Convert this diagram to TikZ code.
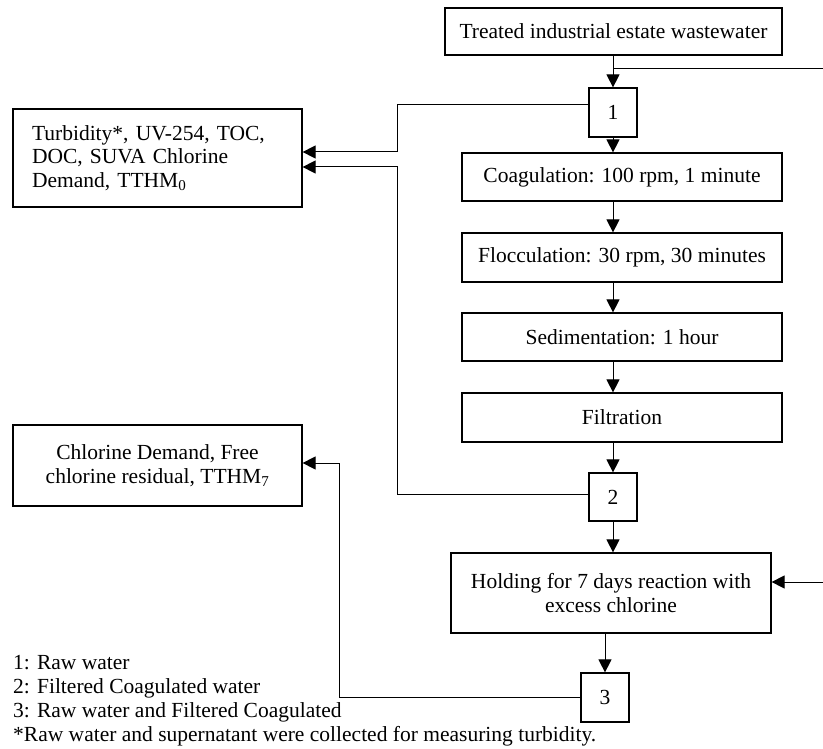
\documentclass[tikz,border=0pt]{standalone}
\usepackage{fontspec}
\setmainfont{Liberation Serif}
\usetikzlibrary{arrows.meta}
\begin{document}
\begin{tikzpicture}[x=1pt,y=-1pt,
  box/.style={draw,line width=1.2pt,inner sep=0pt,font=\fontsize{21.5}{23.5}\selectfont,align=center},
  conn/.style={line width=1pt},
  arr/.style={conn,-{Triangle[length=13pt,width=13pt]}},
  legend/.style={anchor=west,inner sep=0pt,align=left,font=\fontsize{21.5}{24}\selectfont}]
\useasboundingbox[fill=white] (0,0) rectangle (823,749);
% main column
\node[box,minimum width=337pt,minimum height=47pt] (top) at (613.5,31.5) {Treated industrial estate wastewater};
\node[box,minimum width=48pt,minimum height=49pt] (b1) at (613,112.5) {1};
\node[box,minimum width=320pt,minimum height=48pt] (coag) at (622,177) {Coagulation: 100 rpm, 1 minute};
\node[box,minimum width=320pt,minimum height=49pt] (floc) at (622,257.5) {Flocculation: 30 rpm, 30 minutes};
\node[box,minimum width=320pt,minimum height=48pt] (sed) at (622,337) {Sedimentation: 1 hour};
\node[box,minimum width=320pt,minimum height=49pt] (filt) at (622,417.5) {Filtration};
\node[box,minimum width=48pt,minimum height=48pt] (b2) at (613,497) {2};
\node[box,minimum width=320pt,minimum height=80pt] (hold) at (611,593) {Holding for 7 days reaction with\\excess chlorine};
\node[box,minimum width=48pt,minimum height=49pt] (b3) at (605,697.5) {3};
% left boxes
\node[box,minimum height=98pt,text width=251pt,inner xsep=19pt,align=left] (lb1) at (157.5,158)
  {Turbidity*, UV-254, TOC,\\DOC, SUVA Chlorine\\Demand, TTHM\textsubscript{0}};
\node[box,minimum width=289pt,minimum height=81pt] (lb2) at (157.5,465.5)
  {Chlorine Demand, Free\\chlorine residual, TTHM\textsubscript{7}};
% legend
\node[legend] (leg) at (13,701) {1: Raw water\\2: Filtered Coagulated water\\3: Raw water and Filtered Coagulated\\*Raw water and supernatant were collected for measuring turbidity.};
% coordinates
\coordinate (rt) at (823,69);
\coordinate (rh) at (823,582);
\coordinate (k1) at (397,105);
\coordinate (k2) at (397,152);
\coordinate (k3) at (397,167);
\coordinate (k4) at (397,494);
\coordinate (k5) at (339,697);
\coordinate (k6) at (339,463);
% connectors
\draw[arr] (top.south -| b1) -- (b1.north);
\draw[conn] (rt) -- (rt -| b1);
\draw[arr] (b1.south) -- (coag.north -| b1);
\draw[arr] (coag.south -| b1) -- (floc.north -| b1);
\draw[arr] (floc.south -| b1) -- (sed.north -| b1);
\draw[arr] (sed.south -| b1) -- (filt.north -| b1);
\draw[arr] (filt.south -| b1) -- (b2.north);
\draw[arr] (b2.south) -- (hold.north -| b2);
\draw[arr] (hold.south -| b3) -- (b3.north);
\draw[arr] (rh) -- (rh -| hold.east);
\draw[arr] (k1 -| b1.west) -- (k1) -- (k2) -- (k2 -| lb1.east);
\draw[arr] (k4 -| b2.west) -- (k4) -- (k3) -- (k3 -| lb1.east);
\draw[arr] (k5 -| b3.west) -- (k5) -- (k6) -- (k6 -| lb2.east);
\end{tikzpicture}
\end{document}
